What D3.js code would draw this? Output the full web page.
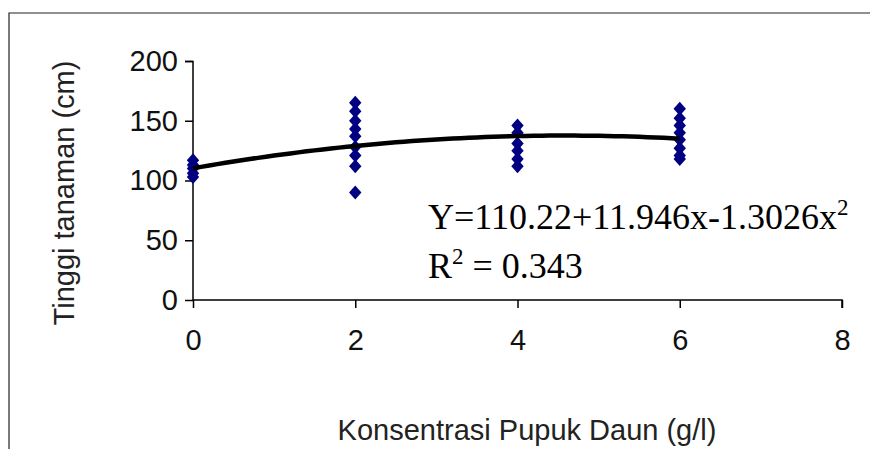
<!DOCTYPE html>
<html><head><meta charset="utf-8">
<script src="https://cdn.jsdelivr.net/npm/d3@7"></script>
<style>body{margin:0;background:#fff}svg{display:block}</style>
</head><body>
<svg id="c" width="870" height="449"></svg>
<script>
const xValues = [0, 2, 4, 6];
const heights0 = [117, 113, 110, 106, 103];
const heights2 = [165, 158, 150, 143, 137, 128, 121, 112, 90];
const heights4 = [146, 140, 131, 125, 118, 112];
const heights6 = [160, 152, 146, 140, 134, 127, 121, 118];
const coefficients = [110.22, 11.946, -1.3026];
const xTicks = [0, 2, 4, 6, 8];
const yTicks = [0, 50, 100, 150, 200];

const svg = d3.select("#c");
const x = d3.scaleLinear().domain([0, 8]).range([193, 842]);
const y = d3.scaleLinear().domain([0, 200]).range([300, 61]);

// outer border
svg.append("path").attr("d", "M9,449 L9,13 L870,13").attr("fill", "none").attr("stroke", "#222").attr("stroke-width", 1.2);

const font = "'Liberation Sans', Arial, sans-serif";

// y axis
const ya = svg.append("g").attr("transform", "translate(193,0)")
  .call(d3.axisLeft(y).tickValues(yTicks).tickSize(8).tickPadding(8));
ya.select(".domain").attr("stroke", "#000").attr("stroke-width", 1.5).attr("d", "M-8,61.5H0V300");
ya.selectAll(".tick line").attr("stroke", "#000").attr("stroke-width", 1.5);
ya.selectAll(".tick text").attr("font-family", font).attr("font-size", 29).attr("fill", "#111").attr("x", -15);

// x axis
const xa = svg.append("g").attr("transform", "translate(0,300)")
  .call(d3.axisBottom(x).tickValues(xTicks).tickSize(8).tickPadding(21));
xa.select(".domain").attr("stroke", "#000").attr("stroke-width", 1.5).attr("d", "M193,0H842V8");
xa.selectAll(".tick line").attr("stroke", "#000").attr("stroke-width", 1.5);
xa.selectAll(".tick text").attr("font-family", font).attr("font-size", 29).attr("fill", "#111");

// axis titles
svg.append("text").attr("transform", "translate(74,193) rotate(-90)")
  .attr("text-anchor", "middle").attr("font-family", font).attr("font-size", 29).attr("fill", "#222")
  .text("Tinggi tanaman (cm)");
svg.append("text").attr("x", 527).attr("y", 440)
  .attr("text-anchor", "middle").attr("font-family", font).attr("font-size", 29).attr("fill", "#222")
  .text("Konsentrasi Pupuk Daun (g/l)");

// points
const groups = [heights0, heights2, heights4, heights6];
const pts = [];
groups.forEach((g, i) => g.forEach(v => pts.push({x: xValues[i], y: v})));
svg.append("g").selectAll("path").data(pts).join("path")
  .attr("d", "M0,-7L6.2,0L0,7L-6.2,0Z")
  .attr("transform", d => `translate(${x(d.x)},${y(d.y)})`)
  .attr("fill", "#000080");

// trendline
const xs = d3.range(0, 6.0001, 0.1);
const line = d3.line().x(d => x(d)).y(d => y(coefficients[0] + coefficients[1]*d + coefficients[2]*d*d));
svg.append("path").datum(xs).attr("d", line).attr("fill", "none").attr("stroke", "#000").attr("stroke-width", 4.5);

// equation
const serif = "'Liberation Serif', 'Times New Roman', serif";
const eq = svg.append("text").attr("x", 428).attr("y", 229).attr("font-family", serif).attr("font-size", 36).attr("fill", "#000");
eq.append("tspan").text("Y=110.22+11.946x-1.3026x");
eq.append("tspan").attr("dy", -14).attr("font-size", 23).text("2");
const r2 = svg.append("text").attr("x", 428).attr("y", 278).attr("font-family", serif).attr("font-size", 36).attr("fill", "#000");
r2.append("tspan").text("R");
r2.append("tspan").attr("dy", -14).attr("font-size", 23).text("2");
r2.append("tspan").attr("dy", 14).text(" = 0.343");
</script>
</body></html>
